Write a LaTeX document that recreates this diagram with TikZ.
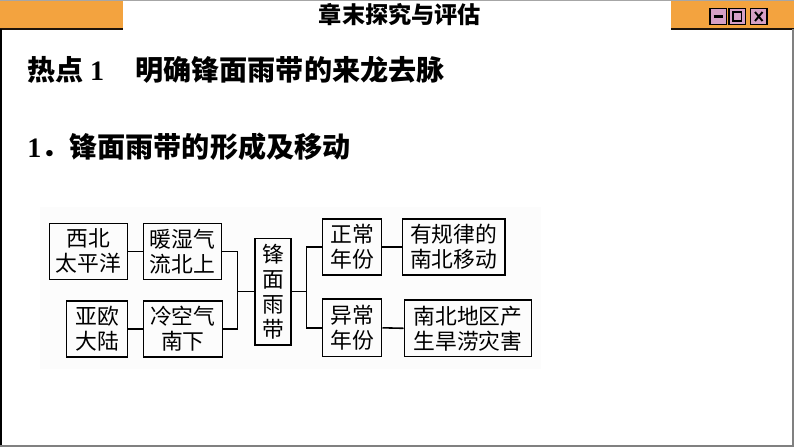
\documentclass[tikz,border=0pt]{standalone}
\usepackage{fontspec}
\newfontfamily\cjk{Noto Sans CJK SC}
\newfontfamily\tnr{Liberation Serif}
\definecolor{barorange}{RGB}{243,163,63}
\definecolor{btnpink}{RGB}{214,160,198}
\tikzset{
  boxnode/.style={draw, line width=0.9pt, inner sep=0pt, align=center,
    font=\cjk\fontsize{12.4}{14.2}\selectfont},
  link/.style={line width=0.9pt},
  btn/.style={draw=black, line width=1.1pt, fill=btnpink}
}
\begin{document}
\begin{tikzpicture}[x=0.02cm, y=-0.02cm]
  %tikz  slide, frontal rain belt
  \def\pu{0.02cm}
  \useasboundingbox (0,0) rectangle (794,447);
  % top bar
  \fill[barorange] (0,0.5) rectangle (123,28);
  \fill[barorange] (671,0.5) rectangle (794,28);
  \draw[black!85!brown, line width=1.2pt] (0,28.8) -- (123,28.8);
  \draw[black!85!brown, line width=1.2pt] (671,28.8) -- (794,28.8);
  \draw[gray!70, line width=0.6pt] (0,0.4) -- (794,0.4);
  \draw[black, line width=1pt] (0.8,29) -- (0.8,447);
  \draw[gray, line width=1pt] (793,29) -- (793,447);
  \draw[gray, line width=1pt] (0,446) -- (794,446);
  \node[font=\cjk\bfseries\fontsize{13.2}{13.2}\selectfont] (title) at (400,15) {章末探究与评估};
  % window buttons
  \draw[btn] (710,8.5) rectangle (726.5,24.5);
  \draw[btn] (729,8.5) rectangle (745.5,24.5);
  \draw[btn] (750.5,8.5) rectangle (767,24.5);
  \draw[line width=1.6pt] (713.5,16.5) -- (723,16.5);
  \draw[line width=1pt] (733,12) rectangle (741.5,21);
  \draw[line width=1.1pt] (755,12) -- (762.5,21) (755,21) -- (762.5,12);
  % headings
  \node[anchor=west, inner sep=0pt, font=\cjk\bfseries\fontsize{16}{16}\selectfont] (hot) at (27,70)
    {热点 {\tnr\bfseries 1}};
  \node[anchor=west, inner sep=0pt, font=\cjk\bfseries\fontsize{16}{16}\selectfont] (topic) at (135,70)
    {明确锋面雨带的来龙去脉};
  \node[anchor=west, inner sep=0pt, font=\cjk\bfseries\fontsize{16}{16}\selectfont] (sub) at (27,147)
    {{\tnr\bfseries 1}．锋面雨带的形成及移动};
  % diagram
  \fill[black!1] (40,207) rectangle (541,369);
  \node[boxnode, minimum width=78.4*\pu, minimum height=56*\pu] (pac) at (88.5,251.3) {西北\\太平洋};
  \node[boxnode, minimum width=78.4*\pu, minimum height=56*\pu] (warm) at (182.5,251.3) {暖湿气\\流北上};
  \node[boxnode, minimum width=61*\pu, minimum height=56*\pu] (eur) at (97.2,329) {亚欧\\大陆};
  \node[boxnode, minimum width=79*\pu, minimum height=56*\pu] (cold) at (182.8,329) {冷空气\\南下};
  \node[boxnode, minimum width=36*\pu, minimum height=106.7*\pu] (belt) at (273,291.7) {锋\\面\\雨\\带};
  \node[boxnode, minimum width=59*\pu, minimum height=56*\pu] (norm) at (352.2,247) {正常\\年份};
  \node[boxnode, minimum width=102.7*\pu, minimum height=56*\pu] (move) at (453.7,247) {有规律的\\南北移动};
  \node[boxnode, minimum width=59*\pu, minimum height=57.7*\pu] (abn) at (352.2,327.8) {异常\\年份};
  \node[boxnode, minimum width=127.4*\pu, minimum height=56.7*\pu] (dis) at (468,328.3) {南北地区产\\生旱涝灾害};
  \coordinate (jl) at (237.3,291.7);
  \coordinate (jr) at (306.7,291.7);
  \draw[link] (pac) -- (warm);
  \draw[link] (eur) -- (cold);
  \draw[link] (warm.east) -| (jl);
  \draw[link] (cold.east) -| (jl);
  \draw[link] (jl) -- (belt.west);
  \draw[link] (belt.east) -- (jr);
  \draw[link] (jr) |- (norm.west);
  \draw[link] (jr) |- (abn.west);
  \draw[link] (norm) -- (move);
  \draw[link] (abn.east) -- (dis.west);
\end{tikzpicture}
\end{document}
